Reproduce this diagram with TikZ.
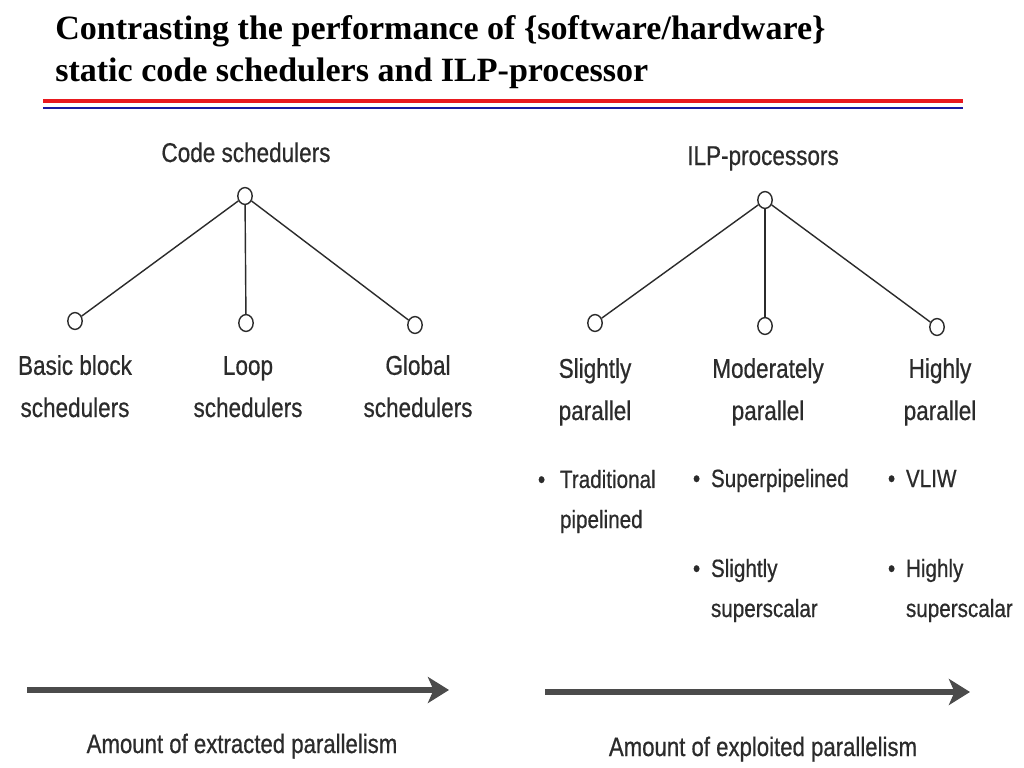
\documentclass[tikz,border=0pt]{standalone}
\usepackage{fontspec}
\setmainfont{Liberation Serif}
\newfontfamily\scanfont[FakeStretch=0.83, FakeBold=0.6]{Liberation Sans}
\usetikzlibrary{arrows.meta, shapes.geometric}
\definecolor{ink}{HTML}{2B2B2B}
\definecolor{rulered}{HTML}{E8191E}
\definecolor{ruleblue}{HTML}{1A1AA0}

\begin{document}
\begin{tikzpicture}[x=0.025cm, y=-0.025cm,
        hub/.style={draw=ink, ellipse, line width=1pt, inner sep=0pt,
            minimum width=0.36cm, minimum height=0.42cm},
        lab/.style={text=ink, anchor=base, align=center,
            font=\scanfont\fontsize{19.3}{30}\selectfont},
        itm/.style={text=ink, anchor=base west, align=left,
            font=\scanfont\fontsize{17.7}{28.5}\selectfont},
        amount/.style={text=ink, anchor=base,
            font=\scanfont\fontsize{19}{21}\selectfont},
        flow/.style={draw=ink!85, line width=3.8pt,
            -{Stealth[length=15pt, width=18.5pt, inset=4pt]}}]
    \useasboundingbox[fill=white] (0,0) rectangle (1024,768);

    % title and rules
    \node[anchor=base west, align=left, inner sep=0pt, font=\bfseries\fontsize{24.2}{29.9}\selectfont] (title) at (55,82)
        {Contrasting the performance of \{software/hardware\}\\static code schedulers and ILP-processor};
    \draw[rulered, line width=3pt] (43,101) -- (963,101);
    \draw[ruleblue, line width=1.5pt] (43,108) -- (963,108);

    % code schedulers
    \node[lab] (cslab) at (246,162) {Code schedulers};
    \node[hub] (cs) at (245,196) {};
    \node[hub] (bb) at (75,321) {};
    \node[hub] (lp) at (246,323) {};
    \node[hub] (gl) at (415,325) {};
    \node[lab] (bblab) at (75,417) {Basic block\\schedulers};
    \node[lab] (lplab) at (248,417) {Loop\\schedulers};
    \node[lab] (gllab) at (418,417) {Global\\schedulers};

    \draw[ink, line width=1pt] (cs)--(bb);
    \draw[ink, line width=1pt] (cs)--(lp);
    \draw[ink, line width=1pt] (cs)--(gl);

    % ILP-processors
    \node[lab] (ilplab) at (763,165) {ILP-processors};
    \node[hub] (ilp) at (765,200) {};
    \node[hub] (sp) at (595,323) {};
    \node[hub] (mp) at (765,326) {};
    \node[hub] (hp) at (937,327) {};
    \node[lab] (splab) at (595,420) {Slightly\\parallel};
    \node[lab] (mplab) at (768,420) {Moderately\\parallel};
    \node[lab] (hplab) at (940,420) {Highly\\parallel};

    \draw[ink, line width=1pt] (ilp)--(sp);
    \draw[ink, line width=1pt] (ilp)--(mp);
    \draw[ink, line width=1pt] (ilp)--(hp);

    % kinds of processors
    \node[itm] (trad) at (533,528) {\makebox[0.55cm][l]{•}Traditional\\\hspace*{0.55cm}pipelined};
    \node[itm] (supp) at (688,487) {\makebox[0.45cm][l]{•}Superpipelined};
    \node[itm] (ssup) at (688,617) {\makebox[0.45cm][l]{•}Slightly\\\hspace*{0.45cm}superscalar};
    \node[itm] (vliw) at (883,487) {\makebox[0.45cm][l]{•}VLIW};
    \node[itm] (hsup) at (883,617) {\makebox[0.45cm][l]{•}Highly\\\hspace*{0.45cm}superscalar};

    % parallelism arrows
    \coordinate (ex0) at (27,690);
    \coordinate (ex1) at (449,690);
    \coordinate (ep0) at (545,692);
    \coordinate (ep1) at (970,692);
    \draw[flow] (ex0)--(ex1);
    \draw[flow] (ep0)--(ep1);
    \node[amount] (exlab) at (242,753) {Amount of extracted parallelism};
    \node[amount] (eplab) at (763,756) {Amount of exploited parallelism};
\end{tikzpicture}
\end{document}
